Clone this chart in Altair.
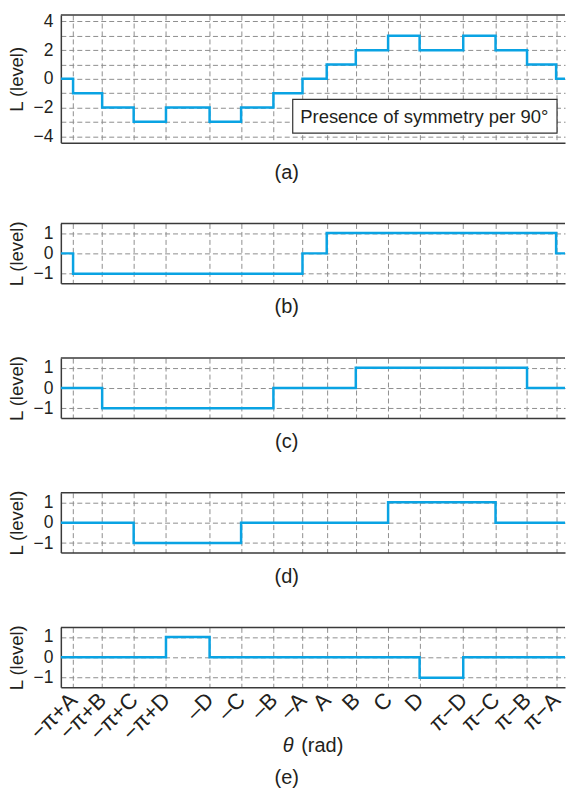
import math
import altair as alt
import pandas as pd

PI = math.pi

# x tick positions (rad) and their labels
tick_labels = ["−π+A", "−π+B", "−π+C", "−π+D", "–D", "–C", "–B", "–A",
               "A", "B", "C", "D", "π−D", "π−C", "π−B", "π−A"]
tick_values = [-2.99, -2.63, -2.24, -1.84, -1.30, -0.91, -0.51, -0.15,
               0.15, 0.51, 0.91, 1.30, 1.84, 2.24, 2.63, 2.99]

# level of each of the 17 segments between consecutive breakpoints
level_a = [0, -1, -2, -3, -2, -3, -2, -1, 0, 1, 2, 3, 2, 3, 2, 1, 0]
level_b = [0, -1, -1, -1, -1, -1, -1, -1, 0, 1, 1, 1, 1, 1, 1, 1, 0]
level_c = [0, 0, -1, -1, -1, -1, -1, 0, 0, 0, 1, 1, 1, 1, 1, 0, 0]
level_d = [0, 0, 0, -1, -1, -1, 0, 0, 0, 0, 0, 1, 1, 1, 0, 0, 0]
level_e = [0, 0, 0, 0, 1, 0, 0, 0, 0, 0, 0, 0, -1, 0, 0, 0, 0]

captions = ["(a)", "(b)", "(c)", "(d)", "(e)"]
legend_text = "Presence of symmetry per 90°"
y_title = "L (level)"

FONT = "Liberation Sans"
TXT = "#231f20"
FRAME = "#3a3a3a"
GRID = "#8f8f8f"
LINE = "#0aa3e3"
W = 505.5

edges = [-PI] + tick_values + [PI]

labels_js = "[" + ",".join("'%s'" % s for s in tick_labels) + "]"
values_js = "[" + ",".join(repr(v) for v in tick_values) + "]"
label_expr = "%s[indexof(%s, datum.value)]" % (labels_js, values_js)

one = pd.DataFrame({"k": [0]})


def step_df(levels):
    return pd.DataFrame({"theta": edges, "L": list(levels) + [levels[-1]]})


def panel(levels, ydom, yvals, height, caption, cap_dy, last=False,
          even_only=False, legend=False):
    df = step_df(levels)
    if last:
        x_axis = alt.Axis(values=tick_values, grid=True, gridDash=[5, 3],
                          gridColor=GRID, gridWidth=1, domain=True,
                          domainColor=FRAME, domainWidth=1.5, ticks=False,
                          labels=True, labelExpr=label_expr, labelAngle=-45,
                          labelAlign="right", labelBaseline="middle",
                          labelOverlap=False, labelBound=False,
                          labelFont=FONT, labelFontSize=22, labelColor=TXT,
                          labelPadding=9, title=None)
    else:
        x_axis = alt.Axis(values=tick_values, grid=True, gridDash=[5, 3],
                          gridColor=GRID, gridWidth=1, domain=True,
                          domainColor=FRAME, domainWidth=1.5, ticks=False,
                          labels=False, title=None)
    y_kw = dict(values=yvals, grid=True, gridDash=[5, 3], gridColor=GRID,
                gridWidth=1, domain=True, domainColor=FRAME, domainWidth=1.5,
                ticks=False, labelFont=FONT, labelFontSize=17.5, labelColor=TXT,
                labelPadding=8, labelOverlap=False, title=y_title, titleFont=FONT,
                titleFontSize=18.5, titleFontWeight="normal", titleColor=TXT,
                titlePadding=6)
    if even_only:
        y_kw["labelExpr"] = "datum.value % 2 == 0 ? datum.label : ''"
    line = alt.Chart(df).mark_line(
        interpolate="step-after", color=LINE, strokeWidth=2.5, clip=True
    ).encode(
        x=alt.X("theta:Q", scale=alt.Scale(domain=[-PI, 3.10], nice=False, zero=False),
                axis=x_axis),
        y=alt.Y("L:Q", scale=alt.Scale(domain=ydom, nice=False, zero=False),
                axis=alt.Axis(**y_kw)),
    )
    top = alt.Chart(one).mark_rule(color=FRAME, strokeWidth=1.5).encode(
        y=alt.value(0))
    cap = alt.Chart(one).mark_text(
        text=caption, font=FONT, fontSize=20, color=TXT, align="center",
        baseline="middle").encode(x=alt.value(226.5), y=alt.value(height + cap_dy))
    layers = [line, top, cap]
    if legend:
        box = alt.Chart(one).mark_rect(
            fill="white", stroke="#333333", strokeWidth=1.2).encode(
            x=alt.value(232.5), x2=alt.value(497.5),
            y=alt.value(84.5), y2=alt.value(118.5))
        txt = alt.Chart(one).mark_text(
            text=legend_text, font=FONT, fontSize=18.5, color=TXT,
            align="left", baseline="middle").encode(
            x=alt.value(240), y=alt.value(102))
        layers += [box, txt]
    if last:
        th = alt.Chart(one).mark_text(
            text="θ", font=FONT, fontSize=20, fontStyle="italic", color=TXT,
            align="left", baseline="middle").encode(
            x=alt.value(222.5), y=alt.value(height + 59))
        rad = alt.Chart(one).mark_text(
            text="(rad)", font=FONT, fontSize=20, color=TXT,
            align="left", baseline="middle").encode(
            x=alt.value(241), y=alt.value(height + 59))
        layers += [th, rad]
    return alt.layer(*layers).properties(width=W, height=height)


pa = panel(level_a, [-4.45, 4.45], [-4, -3, -2, -1, 0, 1, 2, 3, 4], 128,
           captions[0], 30, even_only=True, legend=True)
pb = panel(level_b, [-1.47, 1.47], [-1, 0, 1], 60, captions[1], 24)
pc = panel(level_c, [-1.47, 1.47], [-1, 0, 1], 60, captions[2], 24)
pd_ = panel(level_d, [-1.47, 1.47], [-1, 0, 1], 60, captions[3], 25)
pe = panel(level_e, [-1.47, 1.47], [-1, 0, 1], 60, captions[4], 91, last=True)

rest = alt.vconcat(pb, pc, pd_, pe, spacing=75, bounds="flush")
chart = alt.vconcat(pa, rest, spacing=81, bounds="flush").properties(
    padding={"left": 8, "top": 11, "right": 0, "bottom": 0}
).configure_view(stroke=None)

chart.save("out.html", embed_options={"renderer": "svg", "actions": False})
